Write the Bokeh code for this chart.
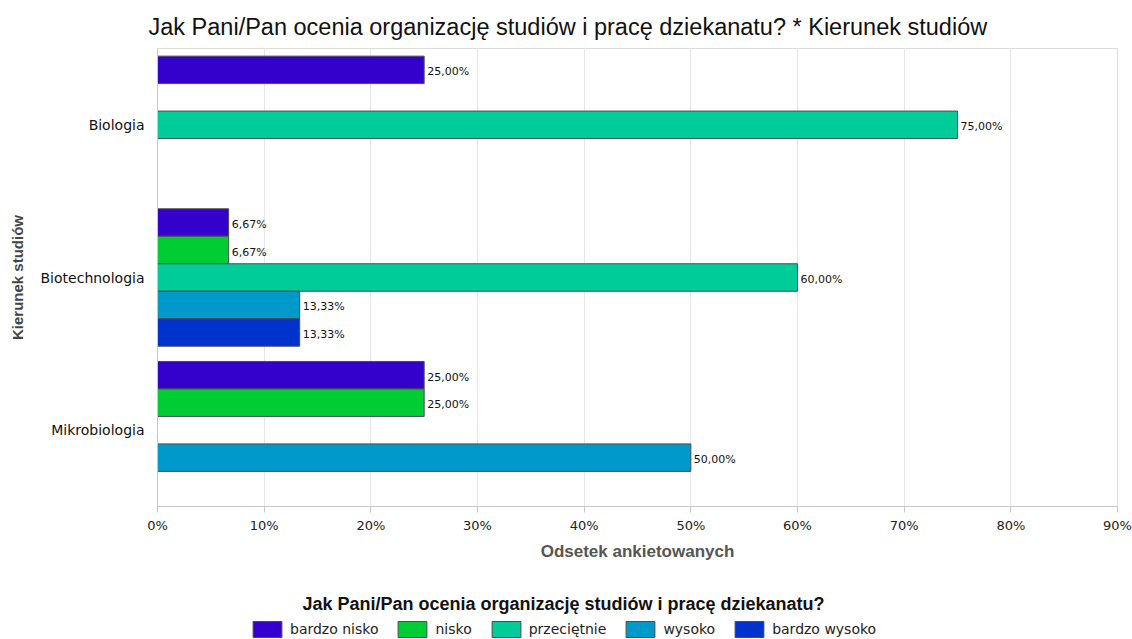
from bokeh.plotting import figure
from bokeh.layouts import column
from bokeh.models import (ColumnDataSource, FactorRange, Range1d, Legend, LegendItem,
                          Title, Label, FixedTicker, PrintfTickFormatter)
from bokeh.transform import dodge
from bokeh.core.properties import value
from bokeh.embed import file_html
from bokeh.resources import INLINE

# ---------------- data ----------------
categories = ["Biologia", "Biotechnologia", "Mikrobiologia"]
series_names = ["bardzo nisko", "nisko", "przeciętnie", "wysoko", "bardzo wysoko"]
bardzo_nisko = [25.00, 6.67, 25.00]
nisko = [0.0, 6.67, 25.00]
przecietnie = [75.00, 60.00, 0.0]
wysoko = [0.0, 13.33, 50.00]
bardzo_wysoko = [0.0, 13.33, 0.0]
series_values = [bardzo_nisko, nisko, przecietnie, wysoko, bardzo_wysoko]
series_colors = ["#3300CC", "#00CC33", "#00CC99", "#0099CC", "#0033CC"]
x_ticks = [0, 10, 20, 30, 40, 50, 60, 70, 80, 90]

title_text = "Jak Pani/Pan ocenia organizację studiów i pracę dziekanatu? * Kierunek studiów"
legend_title = "Jak Pani/Pan ocenia organizację studiów i pracę dziekanatu?"
x_title = "Odsetek ankietowanych"
y_title = "Kierunek studiów"

# ---------------- main figure ----------------
W = 1132
H_MAIN = 575
H_LEG = 64
TOP, BOTTOM, LEFT, RIGHT = 48, 506, 157, 1117
p = figure(width=W, height=H_MAIN, output_backend="svg", toolbar_location=None,
           title=None,
           y_range=FactorRange(factors=categories[::-1], range_padding=0),
           x_range=Range1d(0, 90),
           min_border_left=LEFT, min_border_right=W - RIGHT,
           min_border_top=TOP, min_border_bottom=H_MAIN - BOTTOM)

p.background_fill_color = "white"
p.border_fill_color = "white"
p.outline_line_color = "#dddddd"

p.ygrid.grid_line_color = None
p.xgrid.grid_line_color = "#e6e6e6"
p.xgrid.ticker = FixedTicker(ticks=x_ticks)

xa = p.xaxis[0]
xa.ticker = FixedTicker(ticks=x_ticks)
xa.formatter = PrintfTickFormatter(format="%d%%")
xa.axis_line_color = "#c8c8c8"
xa.major_tick_line_color = "#c8c8c8"
xa.major_tick_in = 0
xa.major_tick_out = 6
xa.minor_tick_line_color = None
xa.major_label_text_font = "DejaVu Sans"
xa.major_label_text_font_size = "13px"
xa.major_label_text_color = "#222222"
xa.major_label_standoff = 5
xa.axis_label = x_title
xa.axis_label_text_font = "Liberation Sans"
xa.axis_label_text_font_style = "bold"
xa.axis_label_text_font_size = "17px"
xa.axis_label_text_color = "#555555"
xa.axis_label_standoff = 6

ya = p.yaxis[0]
ya.axis_line_color = "#c8c8c8"
ya.major_tick_line_color = None
ya.major_tick_in = 0
ya.major_tick_out = 0
ya.minor_tick_line_color = None
ya.major_label_text_font = "DejaVu Sans"
ya.major_label_text_font_size = "14px"
ya.major_label_text_color = "#111111"
ya.major_label_standoff = 13
ya.axis_label = y_title
ya.axis_label_text_font = "Liberation Sans"
ya.axis_label_text_font_style = "bold"
ya.axis_label_text_font_size = "15px"
ya.axis_label_text_color = "#444444"
ya.axis_label_standoff = 12

BAR_H = 0.18
for i, (name, vals, col) in enumerate(zip(series_names, series_values, series_colors)):
    cats = [c for c, v in zip(categories, vals) if v > 0]
    vv = [v for v in vals if v > 0]
    labels = [("%.2f" % v).replace(".", ",") + "%" for v in vv]
    src = ColumnDataSource(dict(cat=cats, val=vv, lab=labels))
    off = (2 - i) * BAR_H
    p.hbar(y=dodge("cat", off, range=p.y_range), right="val", left=0, height=BAR_H,
           source=src, fill_color=col, line_color="#4d4d4d", line_width=1)
    p.text(x="val", y=dodge("cat", off, range=p.y_range), text="lab", source=src,
           x_offset=3, y_offset=2, text_baseline="middle", text_align="left",
           text_font=value("DejaVu Sans"), text_font_size="11px", text_color="#111111")

p.add_layout(Title(text=title_text, align="left", offset=-9, standoff=14,
                   vertical_align="top",
                   text_font="Liberation Sans", text_font_style="normal",
                   text_font_size="23.5px", text_color="#111111"), "above")

# ---------------- legend strip (same frame columns as the chart) ----------------
q = figure(width=W, height=H_LEG, output_backend="svg", toolbar_location=None,
           title=None, x_axis_type=None, y_axis_type=None,
           x_range=Range1d(LEFT, RIGHT), y_range=Range1d(0, H_LEG),
           min_border_left=LEFT, min_border_right=W - RIGHT,
           min_border_top=0, min_border_bottom=0)
q.outline_line_color = None
q.grid.grid_line_color = None
q.background_fill_color = "white"
q.border_fill_color = "white"

items = []
for name, col in zip(series_names, series_colors):
    r = q.hbar(y=[-1000], right=[LEFT + 1], left=LEFT, height=1, fill_color=col,
               line_color="#4d4d4d", line_width=1)
    items.append(LegendItem(label=name, renderers=[r]))

legend = Legend(items=items, orientation="horizontal", location=(249 - LEFT, 0),
                glyph_width=36, glyph_height=20, label_standoff=5, spacing=16,
                padding=0, margin=0, border_line_color=None,
                background_fill_alpha=0,
                label_text_font="DejaVu Sans", label_text_font_size="14px",
                label_text_color="#222222")
q.add_layout(legend, "center")

q.add_layout(Label(x=563, y=H_LEG - (603 - H_MAIN), text=legend_title,
                   text_align="center", text_baseline="middle",
                   text_font="Liberation Sans", text_font_style="bold",
                   text_font_size="18px", text_color="#111111"))

layout = column(p, q, spacing=0)
open("out.html", "w").write(file_html(layout, INLINE))
